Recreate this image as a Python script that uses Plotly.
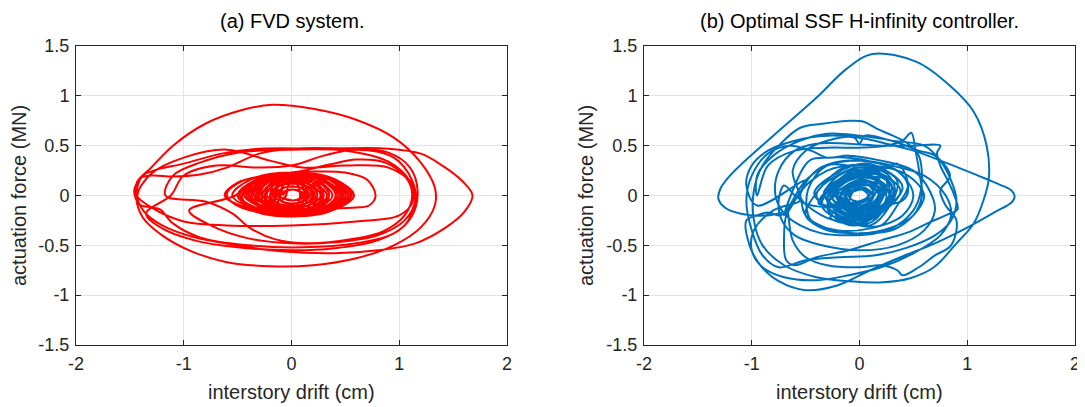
import plotly.graph_objects as go

# ---------------- data ----------------
# (a) FVD system: interstory drift (cm) vs actuation force (MN)
fvd_core_in_drift = [
    -0.08, -0.05, 0.01, 0.07, 0.10, 0.07, 0.01, -0.05,
    -0.13, -0.09, 0.00, 0.10, 0.14, 0.10, 0.00, -0.09,
    -0.05, -0.03, 0.015, 0.06, 0.08, 0.06, 0.015, -0.03,
    -0.18, -0.125, 0.005, 0.135, 0.19, 0.135, 0.005, -0.125,
    -0.10, -0.067, 0.01, 0.087, 0.12, 0.087, 0.01, -0.067,
    -0.23, -0.16, 0.005, 0.17, 0.24, 0.17, 0.005, -0.16,
    -0.15, -0.095, 0.025, 0.145, 0.20, 0.145, 0.025, -0.095,
    -0.27, -0.19, 0.01, 0.21, 0.29, 0.21, 0.01, -0.19,
    -0.20, -0.134, 0.02, 0.174, 0.24, 0.174, 0.02, -0.134,
    -0.31, -0.21, 0.02, 0.25, 0.35, 0.25, 0.02, -0.21,
    -0.25, -0.165, 0.025, 0.215, 0.30, 0.215, 0.025, -0.165,
    -0.35, -0.24, 0.03, 0.30, 0.41, 0.30, 0.03, -0.24,
    -0.39, -0.26, 0.03, 0.32, 0.45, 0.32, 0.03, -0.26,
    -0.44, -0.30, 0.03, 0.36, 0.50, 0.36, 0.03, -0.30,
    -0.48, -0.33, 0.035, 0.40, 0.55, 0.40, 0.035, -0.33,
    -0.55, -0.38, 0.015, 0.41, 0.58, 0.41, 0.015, -0.38]
fvd_core_in_force = [
    0.00, 0.04, 0.06, 0.04, 0.00, -0.035, -0.05, -0.035,
    0.00, 0.065, 0.09, 0.065, 0.00, -0.055, -0.08, -0.055,
    0.00, 0.10, 0.14, 0.10, 0.00, -0.085, -0.12, -0.085,
    0.00, 0.085, 0.12, 0.085, 0.00, -0.08, -0.11, -0.08,
    0.00, 0.12, 0.17, 0.12, 0.00, -0.105, -0.15, -0.105,
    0.00, 0.105, 0.15, 0.105, 0.00, -0.09, -0.13, -0.09,
    0.00, 0.14, 0.20, 0.14, 0.00, -0.13, -0.18, -0.13,
    0.00, 0.12, 0.17, 0.12, 0.00, -0.105, -0.15, -0.105,
    0.00, 0.155, 0.22, 0.155, 0.00, -0.14, -0.20, -0.14,
    0.00, 0.135, 0.19, 0.135, 0.00, -0.11, -0.16, -0.11,
    0.00, 0.15, 0.21, 0.15, 0.00, -0.135, -0.19, -0.135,
    0.00, 0.14, 0.20, 0.14, 0.00, -0.12, -0.17, -0.12,
    0.00, 0.15, 0.21, 0.15, 0.00, -0.125, -0.18, -0.125,
    0.00, 0.155, 0.22, 0.155, 0.00, -0.135, -0.19, -0.135,
    0.00, 0.155, 0.22, 0.155, 0.00, -0.14, -0.20, -0.14,
    0.00, 0.16, 0.23, 0.16, 0.00, -0.135, -0.19, -0.135]

fvd_mid_drift = [
    -0.62, -0.50, -0.20, 0.20, 0.50, 0.70, 0.78, 0.72, 0.60, 0.40, 0.10, -0.30, -0.55,
    -0.60, -0.45, -0.15, 0.07, 0.35, 0.60, 0.87, 1.07, 1.12, 1.05, 0.85, 0.55, 0.15, -0.15, -0.38, -0.55, -0.80,
    -1.17, -1.10, -0.85, -0.50, 0.00, 0.50, 0.90, 1.10, 1.13, 1.00, 0.60, 0.00, -0.60, -1.00, -1.30]
fvd_mid_force = [
    0.00, 0.13, 0.20, 0.24, 0.23, 0.16, 0.00, -0.10, -0.12, -0.13, -0.18, -0.17, -0.07,
    0.02, 0.15, 0.21, 0.24, 0.31, 0.36, 0.33, 0.17, 0.00, -0.20, -0.36, -0.44, -0.48, -0.44, -0.33, -0.18, -0.06,
    0.00, 0.20, 0.33, 0.43, 0.46, 0.45, 0.34, 0.14, -0.05, -0.20, -0.26, -0.30, -0.30, -0.26, -0.12]

fvd_large_drift = [
    -1.45, -1.41, -1.30, -1.10, -0.85, -0.60, -0.30, 0.00, 0.50, 0.90, 1.10, 1.17, 1.12, 0.95, 0.60, 0.10, -0.40, -0.85, -1.10, -1.22, -1.30, -1.41,
    -1.46, -1.41, -1.32, -1.10, -0.80, -0.45, -0.18, 0.20, 0.60, 0.95, 1.20, 1.33, 1.33, 1.20, 0.95, 0.60, 0.20, -0.20, -0.60, -0.95, -1.20, -1.38,
    -1.44, -1.39, -1.28, -1.00, -0.65, -0.30, 0.30, 0.90, 1.20, 1.40, 1.58, 1.68, 1.60, 1.42, 1.15, 0.80, 0.40, -0.10, -0.50, -0.90, -1.20, -1.37,
    -1.43, -1.30, -1.00, -0.60, -0.20, 0.10, 0.50, 0.90, 1.12, 1.15, 1.05, 0.80, 0.40, 0.00, -0.50, -0.90, -1.20, -1.35,
    -1.12, -1.00, -0.70, -0.30, 0.00, 0.30, 0.60, 0.95, 1.12, 1.15, 1.05, 0.80, 0.40, 0.00, -0.40, -0.75, -0.95]
fvd_large_force = [
    0.02, 0.17, 0.20, 0.19, 0.21, 0.28, 0.42, 0.47, 0.47, 0.43, 0.28, 0.05, -0.20, -0.38, -0.48, -0.52, -0.50, -0.42, -0.28, -0.14, -0.12, -0.09,
    0.04, 0.17, 0.26, 0.50, 0.72, 0.86, 0.91, 0.87, 0.76, 0.58, 0.33, 0.08, -0.10, -0.32, -0.50, -0.63, -0.70, -0.71, -0.67, -0.55, -0.40, -0.22,
    -0.02, 0.19, 0.25, 0.32, 0.42, 0.47, 0.47, 0.47, 0.42, 0.30, 0.15, 0.00, -0.17, -0.33, -0.48, -0.55, -0.58, -0.56, -0.50, -0.42, -0.30, -0.16,
    0.00, 0.22, 0.38, 0.46, 0.35, 0.28, 0.30, 0.28, 0.12, -0.05, -0.30, -0.45, -0.53, -0.55, -0.52, -0.45, -0.33, -0.18,
    0.00, 0.20, 0.30, 0.28, 0.30, 0.40, 0.46, 0.38, 0.15, -0.05, -0.25, -0.40, -0.47, -0.48, -0.43, -0.30, -0.15]

fvd_core_out_drift = [
    -0.52, -0.36, 0.02, 0.40, 0.56, 0.40, 0.02, -0.36,
    -0.50, -0.345, 0.015, 0.375, 0.53, 0.375, 0.015, -0.345,
    -0.46, -0.31, 0.03, 0.37, 0.52, 0.37, 0.03, -0.31,
    -0.30, -0.205, 0.025, 0.255, 0.35, 0.255, 0.025, -0.205,
    -0.42, -0.285, 0.025, 0.335, 0.47, 0.335, 0.025, -0.285,
    -0.12, -0.06, 0.08, 0.22, 0.28, 0.22, 0.08, -0.06,
    -0.40, -0.27, 0.04, 0.35, 0.48, 0.35, 0.04, -0.27,
    -0.37, -0.25, 0.03, 0.31, 0.43, 0.31, 0.03, -0.25,
    -0.17, -0.12, -0.01, 0.10, 0.15, 0.10, -0.01, -0.12,
    -0.33, -0.225, 0.025, 0.275, 0.38, 0.275, 0.025, -0.225,
    -0.28, -0.185, 0.025, 0.235, 0.33, 0.235, 0.025, -0.185,
    -0.24, -0.165, 0.015, 0.195, 0.27, 0.195, 0.015, -0.165,
    -0.20, -0.14, 0.01, 0.16, 0.22, 0.16, 0.01, -0.14,
    -0.15, -0.10, 0.01, 0.12, 0.17, 0.12, 0.01, -0.10,
    -0.10, -0.07, 0.01, 0.09, 0.12, 0.09, 0.01, -0.07]
fvd_core_out_force = [
    0.00, 0.14, 0.20, 0.14, 0.00, -0.12, -0.17, -0.12,
    0.00, 0.15, 0.21, 0.15, 0.00, -0.15, -0.21, -0.15,
    0.00, 0.15, 0.21, 0.15, 0.00, -0.125, -0.18, -0.125,
    0.00, 0.155, 0.22, 0.155, 0.00, -0.14, -0.20, -0.14,
    0.00, 0.135, 0.19, 0.135, 0.00, -0.12, -0.17, -0.12,
    0.00, 0.14, 0.20, 0.14, 0.00, -0.11, -0.16, -0.11,
    0.00, 0.16, 0.23, 0.16, 0.00, -0.135, -0.19, -0.135,
    0.00, 0.14, 0.20, 0.14, 0.00, -0.11, -0.16, -0.11,
    0.00, 0.135, 0.19, 0.135, 0.00, -0.12, -0.17, -0.12,
    0.00, 0.125, 0.18, 0.125, 0.00, -0.105, -0.15, -0.105,
    0.00, 0.11, 0.16, 0.11, 0.00, -0.10, -0.14, -0.10,
    0.00, 0.10, 0.14, 0.10, 0.00, -0.085, -0.12, -0.085,
    0.00, 0.085, 0.12, 0.085, 0.00, -0.07, -0.10, -0.07,
    0.00, 0.065, 0.09, 0.065, 0.00, -0.055, -0.08, -0.055,
    0.00, 0.04, 0.06, 0.04, 0.00, -0.035, -0.05, -0.035]

# (b) Optimal SSF H-infinity controller
ssf_large_drift = [
    -0.72, -0.86, -1.11, -1.25, -1.31, -1.29, -1.21, -1.10, -0.80, -0.40, -0.12, 0.12, 0.53, 0.84, 1.06, 1.18, 1.20, 1.15, 1.06, 0.90, 0.69, 0.47, 0.22, -0.09, -0.40, -0.70, -0.90, -0.98, -0.98, -0.90,
    -0.75, -0.55, -0.34, -0.09, 0.04, 0.16, 0.31, 0.45, 0.55, 0.58, 0.56, 0.50, 0.35, 0.15, -0.10, -0.35, -0.55, -0.70, -0.78,
    -0.75, -0.60, -0.40, -0.10, 0.20, 0.50, 0.75, 0.72, 0.75, 0.82, 0.88, 0.91, 0.82, 0.65, 0.45, 0.20, -0.10, -0.40, -0.60, -0.68, -0.70, -0.68, -0.66, -0.60, -0.50,
    -0.95, -1.05, -1.00, -0.85, -0.60, -0.30, 0.00, 0.25, 0.50, 0.80, 1.10, 1.30, 1.41, 1.44, 1.41, 1.25, 0.95, 0.70, 0.38, 0.10, -0.20, -0.50, -0.75, -0.92, -1.02, -1.05,
    -0.95, -0.85, -0.75, -0.70, -0.67, -0.66, -0.62, -0.50, -0.30, 0.00, 0.20, 0.35, 0.40, 0.55, 0.70, 0.85, 0.90, 0.80, 0.75, 0.84, 0.70, 0.55, 0.30, 0.00, -0.30, -0.55, -0.80, -0.95,
    -0.95, -0.85, -0.60, -0.30, 0.00, 0.25, 0.40, 0.48, 0.52, 0.56, 0.58, 0.50, 0.30, 0.00, -0.30, -0.50, -0.55]
ssf_large_force = [
    -0.17, -0.20, -0.18, -0.12, -0.03, 0.07, 0.19, 0.31, 0.60, 0.98, 1.27, 1.42, 1.34, 1.10, 0.84, 0.50, 0.17, -0.05, -0.28, -0.48, -0.72, -0.83, -0.87, -0.86, -0.82, -0.70, -0.50, -0.25, 0.05, 0.30,
    0.50, 0.68, 0.72, 0.75, 0.74, 0.67, 0.60, 0.52, 0.40, 0.20, 0.00, -0.15, -0.30, -0.38, -0.40, -0.38, -0.30, -0.18, 0.00,
    0.25, 0.45, 0.52, 0.52, 0.50, 0.50, 0.50, 0.43, 0.30, 0.15, 0.00, -0.14, -0.19, -0.27, -0.37, -0.45, -0.55, -0.62, -0.70, -0.65, -0.40, -0.20, -0.16, -0.05, 0.15,
    -0.10, 0.10, 0.30, 0.45, 0.55, 0.60, 0.58, 0.52, 0.45, 0.33, 0.20, 0.11, 0.05, -0.01, -0.07, -0.17, -0.35, -0.48, -0.62, -0.75, -0.90, -0.95, -0.86, -0.70, -0.50, -0.25,
    -0.20, -0.17, -0.20, -0.18, -0.12, -0.20, -0.45, -0.62, -0.70, -0.72, -0.70, -0.75, -0.80, -0.72, -0.60, -0.50, -0.25, -0.10, 0.05, 0.20, 0.40, 0.45, 0.55, 0.60, 0.62, 0.55, 0.40, 0.20,
    0.00, 0.30, 0.45, 0.48, 0.48, 0.50, 0.55, 0.63, 0.45, 0.20, 0.00, -0.20, -0.32, -0.38, -0.33, -0.20, 0.00]

ssf_extra_drift = [
    -0.62, -0.50, -0.30, -0.05, 0.00, 0.05, 0.30, 0.60, 0.75, 0.85, 0.90, 0.85, 0.70, 0.45, 0.15, -0.20, -0.50, -0.75, -0.90, -1.00, -1.05, -1.00, -0.85, -0.65,
    -0.45, -0.30, -0.10, 0.20, 0.50, 0.65, 0.70, 0.60, 0.35, 0.00, -0.35, -0.60, -0.72, -0.75, -0.70, -0.60,
    -0.55, -0.80, -0.98, -1.00, -0.90, -0.70, -0.40, -0.10, 0.20, 0.50, 0.75, 0.85, 0.80, 0.60, 0.30, 0.00, -0.30, -0.50,
    -0.62, -0.70, -0.62, -0.52, -0.45, -0.30, -0.10, 0.15, 0.35, 0.45, 0.40]
ssf_extra_force = [
    0.25, 0.45, 0.55, 0.58, 0.52, 0.60, 0.55, 0.50, 0.35, 0.15, -0.05, -0.25, -0.40, -0.52, -0.60, -0.62, -0.65, -0.72, -0.60, -0.35, -0.05, 0.20, 0.42, 0.50,
    0.45, 0.38, 0.40, 0.35, 0.25, 0.05, -0.15, -0.35, -0.50, -0.55, -0.50, -0.40, -0.25, -0.05, 0.10, 0.00,
    -0.05, -0.15, -0.35, -0.55, -0.72, -0.82, -0.85, -0.80, -0.72, -0.58, -0.40, -0.20, 0.00, 0.20, 0.30, 0.35, 0.30, 0.15,
    -0.05, -0.20, 0.05, 0.28, 0.36, 0.38, 0.38, 0.33, 0.25, 0.10, -0.05]

ssf_mid_drift = [-0.55, -0.40, -0.10, 0.25, 0.40, 0.50, 0.40, 0.10, -0.20, -0.45,
                 -0.48, -0.30, 0.00, 0.20, 0.35, 0.45, 0.35, 0.20, -0.10, -0.35,
                 -0.55, -0.30, 0.10, 0.45, 0.60, 0.50, 0.30, 0.00, -0.30, -0.50]
ssf_mid_force = [-0.05, 0.25, 0.35, 0.30, 0.20, 0.00, -0.20, -0.33, -0.35, -0.25,
                 0.05, 0.30, 0.28, 0.25, 0.32, 0.10, -0.10, -0.30, -0.28, -0.20,
                 0.00, 0.25, 0.30, 0.20, 0.00, -0.20, -0.35, -0.38, -0.35, -0.20]

ssf_core_drift = [-0.45, -0.10, 0.35, 0.10, -0.40, 0.00, 0.38, 0.00, -0.35, -0.05, 0.30, 0.05,
                  -0.32, 0.05, 0.28, -0.05, -0.30, 0.00, 0.25, 0.00, -0.27, -0.05, 0.22, 0.02,
                  -0.25, 0.02, 0.20, -0.02, -0.22, 0.00, 0.18, 0.00, -0.20, 0.03, 0.15, 0.00,
                  -0.17, -0.02, 0.13, 0.02, -0.14, 0.00, 0.10, 0.00, -0.10, 0.02, 0.08, -0.01,
                  -0.38, -0.08, 0.32, 0.08, -0.42, 0.05, 0.40, -0.05, -0.30, -0.10, 0.25, 0.10,
                  -0.25, 0.05, 0.30, -0.05, -0.33, 0.10, 0.33, -0.08, -0.20, -0.05, 0.20, 0.05,
                  -0.15, 0.05, 0.18, -0.03, -0.28, 0.00, 0.24, 0.00, -0.12, 0.00, 0.12, 0.00]
ssf_core_force = [-0.05, 0.30, 0.15, -0.30, 0.00, 0.28, 0.05, -0.28, -0.10, 0.25, 0.10, -0.25,
                  0.00, 0.22, 0.00, -0.22, -0.05, 0.20, 0.08, -0.20, 0.02, 0.18, 0.02, -0.18,
                  -0.03, 0.16, 0.05, -0.16, 0.00, 0.14, 0.00, -0.14, -0.04, 0.12, 0.04, -0.12,
                  0.00, 0.10, 0.00, -0.10, -0.02, 0.08, 0.02, -0.08, 0.00, 0.06, 0.00, -0.06,
                  -0.08, 0.22, 0.12, -0.28, 0.02, 0.32, 0.08, -0.30, -0.12, 0.15, 0.15, -0.18,
                  0.05, 0.20, -0.05, -0.20, 0.03, 0.25, 0.00, -0.24, -0.08, 0.12, 0.10, -0.15,
                  0.03, 0.15, -0.02, -0.13, -0.06, 0.10, 0.04, -0.16, 0.00, 0.08, 0.00, -0.08]

ssf_center_drift = [
    -0.25, -0.18, 0.00, 0.18, 0.22, 0.16, 0.00, -0.17,
    -0.18, -0.12, 0.02, 0.14, 0.18, 0.12, 0.00, -0.13,
    -0.30, -0.20, 0.03, 0.22, 0.28, 0.20, -0.02, -0.22,
    -0.12, -0.08, 0.02, 0.10, 0.13, 0.09, 0.00, -0.08,
    -0.22, -0.15, 0.05, 0.20, 0.25, 0.17, -0.03, -0.18,
    -0.35, -0.25, 0.00, 0.25, 0.33, 0.22, -0.05, -0.27,
    -0.15, -0.10, 0.05, 0.15, 0.20, 0.14, 0.00, -0.10,
    -0.08, -0.05, 0.02, 0.06, 0.08, 0.05, 0.00, -0.05]
ssf_center_force = [
    -0.04, 0.12, 0.20, 0.16, 0.03, -0.12, -0.20, -0.16,
    -0.02, 0.10, 0.15, 0.12, 0.01, -0.10, -0.16, -0.12,
    -0.06, 0.14, 0.24, 0.20, 0.04, -0.14, -0.25, -0.20,
    0.00, 0.08, 0.12, 0.09, 0.00, -0.08, -0.12, -0.09,
    0.02, 0.15, 0.18, 0.12, -0.02, -0.15, -0.18, -0.12,
    -0.08, 0.15, 0.28, 0.22, 0.05, -0.15, -0.28, -0.22,
    -0.05, 0.08, 0.14, 0.10, 0.00, -0.12, -0.15, -0.11,
    0.00, 0.05, 0.07, 0.05, 0.00, -0.05, -0.07, -0.05]

x_ticks = [-2, -1, 0, 1, 2]
x_tick_labels = ["-2", "-1", "0", "1", "2"]
y_ticks = [-1.5, -1, -0.5, 0, 0.5, 1, 1.5]
y_tick_labels = ["-1.5", "-1", "-0.5", "0", "0.5", "1", "1.5"]

titles = ["(a) FVD system.", "(b) Optimal SSF H-infinity controller."]
x_title = "interstory drift (cm)"
y_title = "actuation force (MN)"

# ---------------- figure ----------------
fvd_x = fvd_core_in_drift + fvd_mid_drift + fvd_large_drift + fvd_core_out_drift
fvd_y = fvd_core_in_force + fvd_mid_force + fvd_large_force + fvd_core_out_force
ssf_x = ssf_large_drift + ssf_extra_drift + ssf_mid_drift + ssf_core_drift + ssf_center_drift
ssf_y = ssf_large_force + ssf_extra_force + ssf_mid_force + ssf_core_force + ssf_center_force

# the page has an 8 px body margin, so the figure is drawn 8 px in from the corner
OFF = 8
W, H = 1085 - OFF, 407 - OFF
boxes = [(76 - OFF, 507 - OFF), (644 - OFF, 1075 - OFF)]
top_px, bot_px = 46 - OFF, 345 - OFF

fig = go.Figure()
fig.add_trace(go.Scatter(x=fvd_x, y=fvd_y, mode="lines", xaxis="x", yaxis="y",
                         line=dict(color="#FF0000", width=2, shape="spline", smoothing=1.0),
                         showlegend=False, hoverinfo="skip"))
fig.add_trace(go.Scatter(x=ssf_x, y=ssf_y, mode="lines", xaxis="x2", yaxis="y2",
                         line=dict(color="#0072BD", width=2, shape="spline", smoothing=1.0),
                         showlegend=False, hoverinfo="skip"))

font_family = "Liberation Sans, Arial, Helvetica, sans-serif"
axis_common = dict(showline=True, linecolor="#262626", linewidth=1, mirror="ticks",
                   ticks="inside", ticklen=5, tickcolor="#262626", showgrid=True,
                   gridcolor="#E3E3E3", gridwidth=1, zeroline=False, automargin=False,
                   tickfont=dict(family=font_family, size=18, color="#262626"),
                   ticklabelstandoff=2)

ydom = [1 - bot_px / H, 1 - top_px / H]
layout = dict(width=W, height=H, margin=dict(l=0, r=0, t=0, b=0, autoexpand=False),
              paper_bgcolor="white", plot_bgcolor="white",
              font=dict(family=font_family, color="#262626"))
for i, (l, r) in enumerate(boxes):
    sfx = "" if i == 0 else str(i + 1)
    layout["xaxis" + sfx] = dict(axis_common, domain=[l / W, r / W], range=[-2, 2],
                                 tickvals=x_ticks, ticktext=x_tick_labels,
                                 anchor="y" + sfx)
    layout["yaxis" + sfx] = dict(axis_common, domain=ydom, range=[-1.5, 1.5],
                                 tickvals=y_ticks, ticktext=y_tick_labels,
                                 anchor="x" + sfx)
fig.update_layout(**layout)

ann = []
ytitle_x = [19 - OFF, 586 - OFF]
for i, (l, r) in enumerate(boxes):
    cx = (l + r) / 2 / W
    ann.append(dict(text=titles[i], x=cx, y=1 - (21 - OFF) / H, xref="paper", yref="paper",
                    showarrow=False, xanchor="center", yanchor="middle",
                    font=dict(family=font_family, size=20, color="#000000")))
    ann.append(dict(text=x_title, x=cx, y=1 - (392 - OFF) / H, xref="paper", yref="paper",
                    showarrow=False, xanchor="center", yanchor="middle",
                    font=dict(family=font_family, size=20, color="#262626")))
    ann.append(dict(text=y_title, x=ytitle_x[i] / W, y=1 - (196 - OFF) / H, xref="paper", yref="paper",
                    showarrow=False, xanchor="center", yanchor="middle", textangle=-90,
                    font=dict(family=font_family, size=20, color="#262626")))
fig.update_layout(annotations=ann)

fig.write_html("out.html")
